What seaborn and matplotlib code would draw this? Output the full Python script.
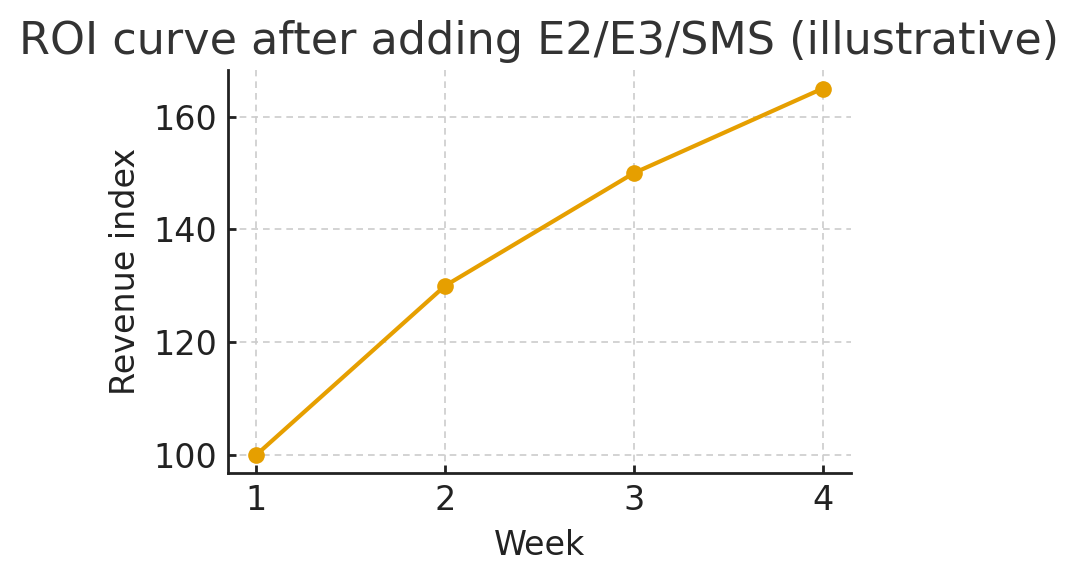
import matplotlib
matplotlib.use("Agg")
import matplotlib.pyplot as plt
import seaborn as sns
import pandas as pd

# data
weeks = [1, 2, 3, 4]
revenue_index = [100, 130, 150, 165]

df = pd.DataFrame({"Week": weeks, "Revenue index": revenue_index})

sns.set_style("ticks")
plt.rcParams['font.family'] = ['DejaVu Sans']

fig = plt.figure(figsize=(5.4, 2.9), dpi=200)
ax = fig.add_axes([0.211, 0.184, 0.577, 0.695])

sns.lineplot(data=df, x="Week", y="Revenue index", marker="o", color="#E69F00",
             linewidth=1.5, markersize=6, markeredgewidth=0, ax=ax)

ax.set_xticks(weeks)
ax.set_yticks([100, 120, 140, 160])
ax.grid(True, linestyle=(0, (4, 3)), linewidth=0.6, color="#cccccc")
ax.set_axisbelow(True)
sns.despine(ax=ax)
for s in ["left", "bottom"]:
    ax.spines[s].set_linewidth(1.0)
    ax.spines[s].set_color("#222222")
ax.tick_params(labelsize=12, length=3, width=1.0, direction="in", pad=4,
               colors="#222222")
ax.set_xlabel("Week", fontsize=12, color="#222222", labelpad=4)
ax.set_ylabel("Revenue index", fontsize=12, color="#222222", labelpad=4)
ax.set_title("ROI curve after adding E2/E3/SMS (illustrative)", fontsize=16, color="#333333")

fig.savefig("out.png", dpi=200)
